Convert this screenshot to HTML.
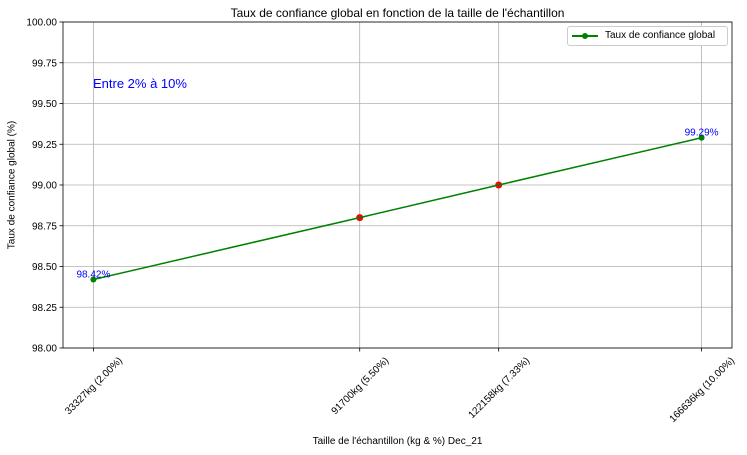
<!DOCTYPE html>
<html><head><meta charset="utf-8"><style>
body{margin:0;background:#fff;}
svg{display:block;font-family:"Liberation Sans","DejaVu Sans",sans-serif;}
</style></head><body>
<svg id="chart" width="747" height="455"></svg>
<script>
const xValues=[33327,91700,122158,166636];
const xLabels=["33327kg (2.00%)","91700kg (5.50%)","122158kg (7.33%)","166636kg (10.00%)"];
const yValues=[98.42,98.80,99.00,99.29];
const pointLabels=["98.42%",null,null,"99.29%"];
const yTicks=[98.00,98.25,98.50,98.75,99.00,99.25,99.50,99.75,100.00];
const redIdx=[1,2];
const L=63,R=732,T=22,B=348;
const span=xValues[3]-xValues[0],xmin=xValues[0]-span*0.05,xmax=xValues[3]+span*0.05;
const X=v=>L+(v-xmin)/(xmax-xmin)*(R-L);
const Y=v=>B-(v-98)/(100-98)*(B-T);
const svg=document.getElementById('chart');
const NS='http://www.w3.org/2000/svg';
function mk(tag,attrs,parent){const e=document.createElementNS(NS,tag);for(const k in attrs)e.setAttribute(k,attrs[k]);(parent||svg).appendChild(e);return e;}
function txt(s,attrs){const e=mk('text',attrs);e.textContent=s;return e;}
yTicks.forEach(t=>{const g=mk('line',{x1:L,x2:R,y1:Y(t),y2:Y(t),stroke:'#b0b0b0','stroke-width':0.8});


const tk=mk('line',{x1:L-3.5,x2:L,y1:Y(t),y2:Y(t),stroke:'#000','stroke-width':0.8});


const lb=txt(t.toFixed(2),{x:L-6,y:Y(t)+3.5,'text-anchor':'end','font-size':10});

});
xValues.forEach((v,i)=>{const x=X(v);
const g=mk('line',{x1:x,x2:x,y1:T,y2:B,stroke:'#b0b0b0','stroke-width':0.8});


const tk=mk('line',{x1:x,x2:x,y1:B,y2:B+3.5,stroke:'#000','stroke-width':0.8});


const lb=txt(xLabels[i],{x:x,y:B,'text-anchor':'middle','font-size':10});


const w=lb.getComputedTextLength(),h=10;
const bh=(w+h)/Math.SQRT2;
const cy=B+7+bh/2;
lb.setAttribute('y',cy+3.5);
lb.setAttribute('transform',`rotate(-45 ${x} ${cy})`);});
const fr=mk('rect',{x:L,y:T,width:R-L,height:B-T,fill:'none',stroke:'#000','stroke-width':0.8});


redIdx.forEach(i=>{const c=mk('circle',{cx:X(xValues[i]),cy:Y(yValues[i]),r:3.5,fill:'#ff0000'});

});
const ln=mk('polyline',{points:xValues.map((v,i)=>X(v)+','+Y(yValues[i])).join(' '),fill:'none',stroke:'#008000','stroke-width':1.5});


[0,3].forEach(i=>{const c=mk('circle',{cx:X(xValues[i]),cy:Y(yValues[i]),r:3,fill:'#008000'});

});
pointLabels.forEach((s,i)=>{if(!s)return;const t=txt(s,{x:X(xValues[i]),y:Y(yValues[i])-2,'text-anchor':'middle','font-size':10,fill:'#0000ff'});

});
</script>
<div style="position:absolute;left:0;top:0;width:747px;height:455px;pointer-events:none;font-family:'Liberation Sans',sans-serif;">
<div style="position:absolute;left:63px;width:669px;top:6px;text-align:center;font-size:12px;">Taux de confiance global en fonction de la taille de l'échantillon</div>
<div style="position:absolute;left:93px;top:76px;font-size:13px;color:#0000ff;">Entre 2% à 10%</div>
<div style="position:absolute;left:63px;width:669px;top:436px;text-align:center;font-size:10px;">Taille de l'échantillon (kg &amp; %) Dec_21</div>
<div style="position:absolute;left:12px;top:185px;font-size:10px;transform:translate(-50%,-50%) rotate(-90deg);white-space:nowrap;">Taux de confiance global (%)</div>
<div style="position:absolute;left:567px;top:26px;width:159px;height:18px;border:1px solid #ccc;border-radius:3px;background:#fff;font-size:10px;">
<div style="position:absolute;left:4px;top:8px;width:26px;height:1.5px;background:#008000"></div>
<div style="position:absolute;left:14px;top:6px;width:6px;height:6px;border-radius:50%;background:#008000"></div>
<span style="position:absolute;left:37px;top:3px;">Taux de confiance global</span></div>
</div>
</body></html>
